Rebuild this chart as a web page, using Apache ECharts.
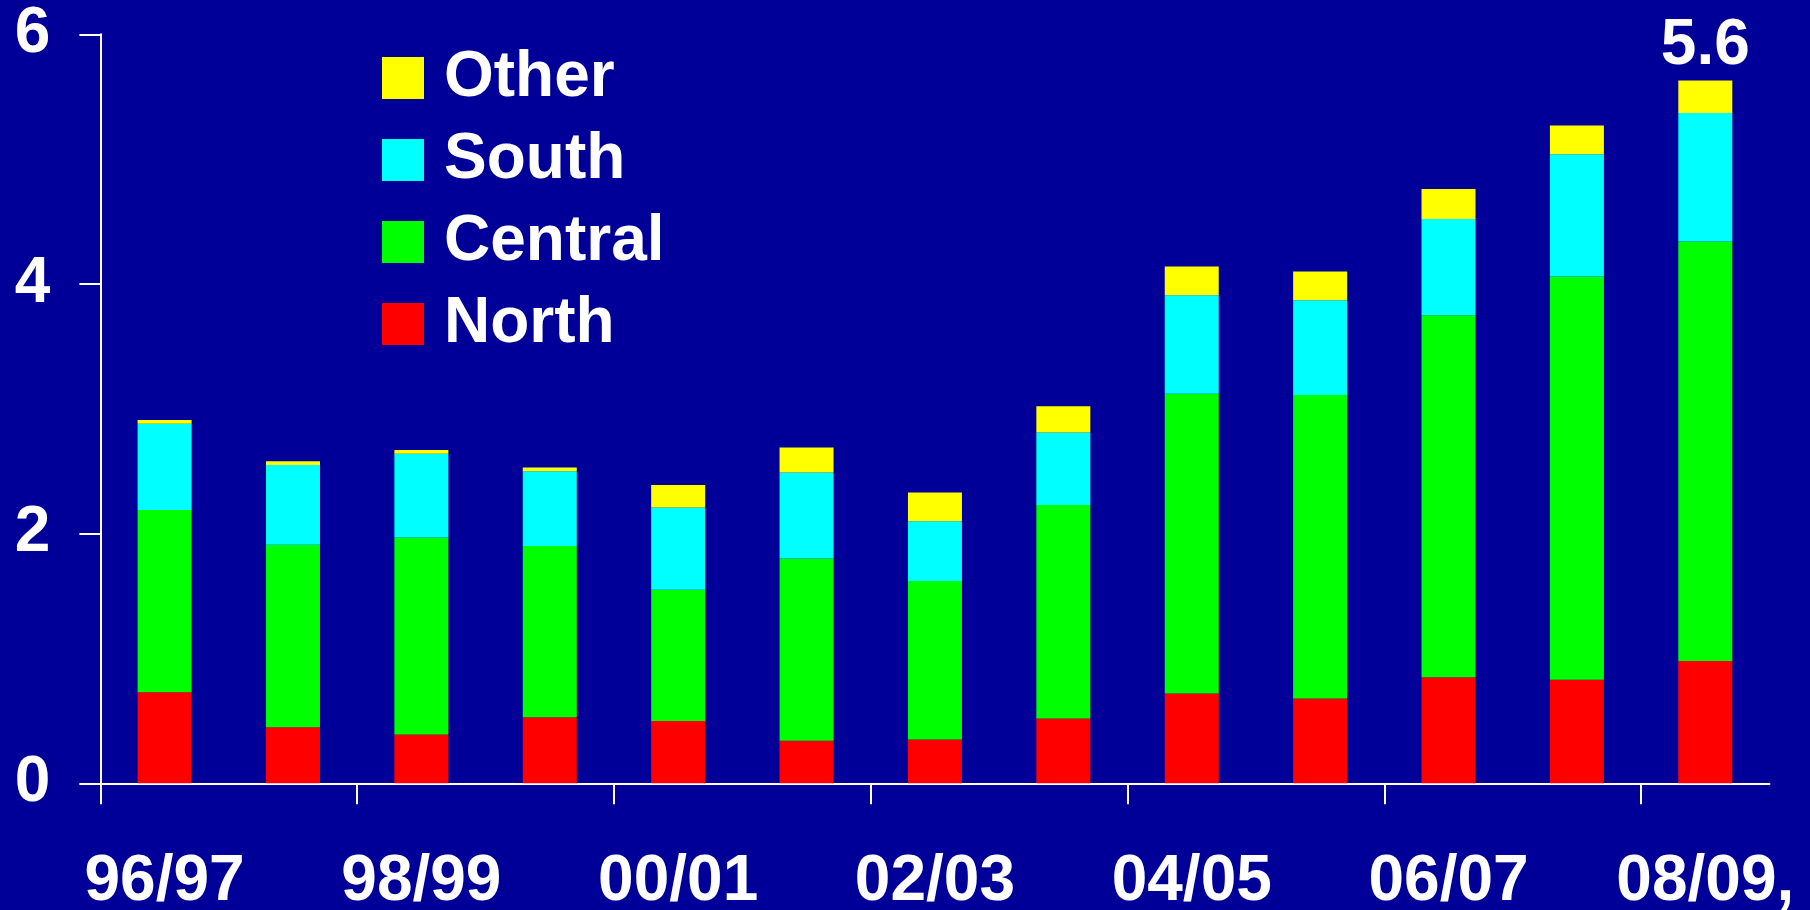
<!DOCTYPE html>
<html>
<head>
<meta charset="utf-8">
<script src="https://cdn.jsdelivr.net/npm/echarts@6/dist/echarts.min.js"></script>
<style>
html,body{margin:0;padding:0;background:#000099;}
#chart{width:1810px;height:910px;}
</style>
</head>
<body>
<div id="chart"></div>
<script>
const categories = ['96/97','97/98','98/99','99/00','00/01','01/02','02/03','03/04','04/05','05/06','06/07','07/08','08/09,'];
const north   = [0.73, 0.45, 0.39, 0.53, 0.50, 0.34, 0.35, 0.52, 0.72, 0.68, 0.85, 0.83, 0.98];
const central = [1.46, 1.46, 1.58, 1.37, 1.05, 1.46, 1.27, 1.71, 2.40, 2.43, 2.90, 3.23, 3.36];
const south   = [0.69, 0.64, 0.67, 0.60, 0.66, 0.69, 0.48, 0.58, 0.79, 0.76, 0.77, 0.98, 1.03];
const other   = [0.03, 0.03, 0.03, 0.03, 0.18, 0.20, 0.23, 0.21, 0.23, 0.23, 0.24, 0.23, 0.26];
const yTicks = [0, 2, 4, 6];
const labelledIndex = 12;

const FONT = 'Liberation Sans, Arial, sans-serif';
const totals = categories.map((c, i) => north[i] + central[i] + south[i] + other[i]);
// helper axis: one point per category boundary (used only for tick marks)
const boundaries = categories.map((c, i) => 'b' + i).concat(['b' + categories.length]);

const chart = echarts.init(document.getElementById('chart'), null, {renderer: 'canvas'});

function mkSeries(name, data, color, withLabel) {
  return {
    name: name,
    type: 'bar',
    stack: 'total',
    barWidth: 54,
    xAxisIndex: 0,
    itemStyle: {color: color, borderWidth: 0},
    emphasis: {disabled: true},
    data: data.map((v, i) => {
      if (withLabel && i === labelledIndex) {
        return {
          value: v,
          label: {
            show: true,
            position: 'top',
            distance: 2,
            color: '#ffffff',
            fontSize: 64,
            lineHeight: 64,
            fontWeight: 'bold',
            fontFamily: FONT,
            formatter: () => totals[i].toFixed(1)
          }
        };
      }
      return v;
    })
  };
}

const axisColor = '#ffffff';

chart.setOption({
  animation: false,
  backgroundColor: '#000099',
  grid: {left: 100.4, right: 40.5, top: 34.3, bottom: 126.7, containLabel: false, outerBoundsMode: 'none'},
  legend: {
    orient: 'vertical',
    left: 382,
    top: 42.5,
    padding: 0,
    itemWidth: 42,
    itemHeight: 42,
    itemGap: 11,
    icon: 'rect',
    selectedMode: false,
    data: ['Other', 'South', 'Central', 'North'],
    textStyle: {
      color: '#ffffff',
      fontSize: 64,
      lineHeight: 64,
      fontWeight: 'bold',
      fontFamily: FONT,
      padding: [7, 0, 0, 15]
    }
  },
  xAxis: [{
    type: 'category',
    position: 'bottom',
    data: categories,
    boundaryGap: true,
    axisLine: {show: true, lineStyle: {color: axisColor, width: 2}},
    axisTick: {show: false},
    axisLabel: {
      interval: 1,
      margin: 67,
      color: '#ffffff',
      fontSize: 64,
      lineHeight: 64,
      fontWeight: 'bold',
      fontFamily: FONT
    },
    splitLine: {show: false}
  }, {
    type: 'category',
    position: 'bottom',
    data: boundaries,
    boundaryGap: false,
    axisLine: {show: false},
    axisTick: {show: true, interval: 1, length: 21, lineStyle: {color: axisColor, width: 2}},
    axisLabel: {show: false},
    splitLine: {show: false}
  }],
  yAxis: {
    type: 'value',
    min: yTicks[0],
    max: yTicks[yTicks.length - 1],
    interval: yTicks[1] - yTicks[0],
    axisLine: {show: true, lineStyle: {color: axisColor, width: 2}},
    axisTick: {show: true, length: 21, lineStyle: {color: axisColor, width: 2}},
    axisLabel: {
      margin: 50,
      color: '#ffffff',
      fontSize: 64,
      lineHeight: 64,
      fontWeight: 'bold',
      fontFamily: FONT
    },
    splitLine: {show: false}
  },
  series: [
    mkSeries('North', north, '#ff0000', false),
    mkSeries('Central', central, '#00ff00', false),
    mkSeries('South', south, '#00ffff', false),
    mkSeries('Other', other, '#ffff00', true)
  ]
});
</script>
</body>
</html>
